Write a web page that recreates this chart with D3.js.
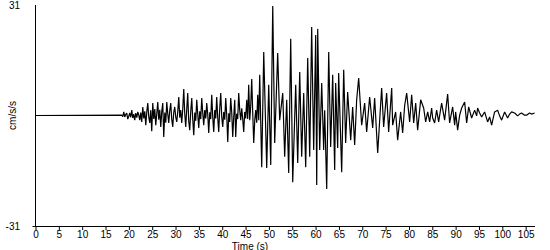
<!DOCTYPE html>
<html>
<head>
<meta charset="utf-8">
<script src="https://d3js.org/d3.v7.min.js"></script>
<style>
  body { margin: 0; background: #fff; }
  text { font-family: "Liberation Sans", Arial, sans-serif; font-size: 10px; fill: #000; }
</style>
</head>
<body>
<div id="chart"></div>
<script>
// time (s) of each sample
var times = [0, 18.48, 18.70, 18.91, 19.12, 19.34, 19.55, 19.76, 19.98, 20.19,
  20.40, 20.62, 20.83, 21.05, 21.26, 21.48, 21.70, 21.91, 22.12, 22.33,
  22.55, 22.76, 22.98, 23.20, 23.41, 23.62, 23.84, 24.05, 24.27, 24.48,
  24.69, 24.90, 25.12, 25.34, 25.55, 25.76, 25.98, 26.19, 26.40, 26.62,
  26.83, 27.05, 27.26, 27.47, 27.70, 27.91, 28.12, 28.33, 28.54, 28.76,
  28.97, 29.18, 29.40, 29.61, 29.83, 30.05, 30.26, 30.48, 30.69, 30.90,
  31.11, 31.33, 31.55, 31.76, 31.97, 32.18, 32.40, 32.61, 32.82, 33.04,
  33.25, 33.47, 33.68, 33.90, 34.12, 34.33, 34.54, 34.75, 34.97, 35.18,
  35.40, 35.61, 35.82, 36.04, 36.26, 36.47, 36.68, 36.90, 37.11, 37.33,
  37.54, 37.75, 37.97, 38.18, 38.40, 38.61, 38.82, 39.04, 39.25, 39.46,
  39.68, 39.90, 40.11, 40.32, 40.54, 40.75, 40.97, 41.18, 41.40, 41.61,
  41.82, 42.03, 42.25, 42.46, 42.68, 42.89, 43.10, 43.32, 43.53, 43.75,
  43.96, 44.18, 44.39, 44.60, 44.82, 45.03, 45.25, 45.46, 45.67, 45.89,
  46.10, 46.32, 46.54, 46.75, 46.96, 47.17, 47.39, 47.60, 47.82, 48.03,
  48.46, 48.89, 49.53, 49.96, 50.39, 50.82, 51.24, 51.88, 52.31, 52.96,
  53.38, 53.81, 54.24, 54.67, 55.10, 55.74, 56.17, 56.60, 57.02, 57.45,
  57.88, 58.31, 58.74, 59.16, 59.59, 60.02, 60.24, 60.45, 60.88, 61.31,
  61.73, 61.95, 62.38, 62.81, 63.23, 63.66, 64.09, 64.30, 64.73, 64.94,
  65.59, 66.02, 66.44, 66.87, 67.52, 67.94, 68.37, 68.80, 69.23, 69.87,
  70.51, 70.94, 71.58, 72.23, 72.65, 73.30, 74.15, 74.58, 75.22, 75.65,
  76.30, 76.51, 77.15, 77.58, 78.22, 78.65, 79.08, 79.51, 80.15, 80.58,
  81.01, 81.44, 81.86, 82.51, 83.15, 83.58, 84.01, 84.44, 84.86, 85.08,
  85.50, 85.93, 86.36, 87.00, 87.64, 88.29, 88.71, 89.36, 89.79, 90.00,
  90.43, 90.86, 91.29, 91.93, 92.36, 92.79, 93.43, 94.07, 94.50, 94.71,
  95.14, 95.57, 96.21, 96.85, 97.28, 97.71, 98.35, 98.99, 99.42, 99.85,
  100.49, 101.14, 101.56, 101.99, 102.63, 103.28, 103.70, 104.13, 104.77, 105.20,
  105.84, 106.27, 106.92];

// acceleration (cm/s/s) at those times
var accel = [0, 0.1, -0.3, 1.0, -0.4, 0.3, 0.7, -1.0, -0.2, 0.7,
  -0.5, 1.5, -0.7, 0.4, -1.3, 0.7, -0.6, 1.0, 0.2, -1.3,
  0.8, -1.8, 2.4, -0.8, 1.2, -2.7, 1.0, 3.5, -0.5, -2.1,
  1.5, -4.4, 3.5, -1.0, 1.8, -2.7, 0.5, 3.8, -1.2, 1.6,
  -3.2, 1.2, 3.5, -6.0, 0.8, -2.0, 3.8, 0.5, -2.1, 1.4,
  3.5, -1.0, -3.2, 0.8, 2.4, -0.5, -1.8, 1.2, 5.2, -0.6,
  1.5, -2.1, 2.0, 7.4, 0.5, -3.2, 1.8, 6.3, -1.5, -4.1,
  1.0, 4.9, -1.0, -5.5, 0.8, -1.5, 4.4, 0.5, -3.5, 1.2,
  -1.0, 4.9, 0.8, -2.7, 1.5, -0.8, 3.5, 0.3, -4.9, 0.9,
  -1.0, 5.8, -0.5, -4.6, 1.5, -0.8, 5.2, -0.7, -4.6, 1.8,
  6.3, -0.5, -3.2, 1.0, -1.2, 4.9, 0.0, -7.4, 0.6, -1.8,
  4.9, 1.0, -6.0, -0.5, 4.4, -6.0, 0.5, -1.0, 6.3, 1.5,
  -1.3, 2.0, -1.0, -4.6, 1.0, -0.8, 4.4, -1.0, 8.6, -1.3,
  2.5, 10.2, 0.5, -7.7, -1.5, 1.5, -2.0, 5.8, -1.3, 11.4,
  -14.5, 17.8, -14.7, 8.6, -13.9, 30.7, -7.7, 17.5, -1.3, 6.3,
  -11.6, 4.4, -16.1, 21.5, -18.7, 8.6, -13.3, 12.2, -11.6, 6.3,
  -14.5, 16.1, -11.6, 24.8, -9.7, 22.6, -19.5, 24.3, -9.7, 9.1,
  -9.7, 1.5, -20.6, 17.8, -8.8, 11.4, -15.3, 9.1, -9.1, 11.9,
  -15.9, 12.8, -7.7, 6.6, -6.9, 2.4, -8.3, 4.4, 10.5, -2.7,
  3.5, -4.6, 5.2, -3.5, 4.9, -10.5, 7.7, -3.2, 6.3, -4.6,
  7.7, -2.7, 1.0, -6.9, 1.0, -4.9, 2.8, 6.3, -1.8, 5.8,
  -2.1, 3.5, -4.1, 4.4, 2.1, -1.8, 1.0, -1.8, 2.1, -0.7,
  -2.1, 1.5, -1.8, 3.5, -1.3, 6.0, -2.1, 2.4, -2.7, 1.0,
  -4.1, 0.1, 2.1, 3.8, -2.1, 2.4, -0.7, 1.5, -0.1, 2.1,
  0.7, -0.4, 1.0, -1.8, -0.4, -2.7, 1.0, 1.5, -0.1, -1.3,
  1.0, -0.7, 0.4, 1.0, 0.7, -0.1, 0.4, 0.7, 0.1, 0.1,
  0.7, 0.4, 0.7];

var xTicks = [0, 5, 10, 15, 20, 25, 30, 35, 40, 45, 50, 55, 60, 65, 70, 75, 80, 85, 90, 95, 100, 105];
var yLimits = [-31, 31];

var width = 550, height = 250;
var margin = {top: 5, left: 35.5, bottom: 24, right: 15};

var svg = d3.select("#chart")
  .append("svg")
  .attr("width", width)
  .attr("height", height);

// scales
var xScale = d3.scaleLinear()
  .domain([0, 107])
  .range([margin.left, width - margin.right]);

var yScale = d3.scaleLinear()
  .domain(yLimits)
  .range([height - margin.bottom, margin.top]);

// x axis with ticks every 5 s
var bottomAxis = d3.axisBottom(xScale)
  .tickValues(xTicks)
  .tickSize(4)
  .tickPadding(1)
  .tickSizeOuter(0);

var xAxis = svg.append("g")
  .attr("transform", `translate(0, ${yScale(-31)})`)
  .call(bottomAxis);
xAxis.select(".domain").remove();
xAxis.selectAll("text").attr("font-family", null).attr("font-size", null);
xAxis.selectAll("line").attr("stroke", "#000");

xAxis.append("line")
  .attr("x1", margin.left - 3)
  .attr("x2", xScale(107))
  .attr("y1", 0.5)
  .attr("y2", 0.5)
  .attr("stroke", "#000");

// y axis is a bare line with end labels
svg.append("line")
  .attr("x1", margin.left)
  .attr("x2", margin.left)
  .attr("y1", yScale(31))
  .attr("y2", yScale(-31))
  .attr("stroke", "#000");

svg.selectAll(".ylim")
  .data(yLimits)
  .enter()
  .append("text")
  .attr("class", "ylim")
  .attr("x", 20)
  .attr("y", d => yScale(d))
  .attr("dy", "0.35em")
  .attr("text-anchor", "end")
  .text(d => d);

// trace
var line = d3.line()
  .x((d, i) => xScale(times[i]))
  .y(d => yScale(d));

svg.append("path")
  .datum(accel)
  .attr("d", line)
  .attr("fill", "none")
  .attr("stroke", "#000")
  .attr("stroke-width", 1.2)
  .attr("stroke-linejoin", "bevel");

// axis labels
svg.append("text")
  .attr("transform", `translate(16, ${yScale(0)}) rotate(-90)`)
  .attr("text-anchor", "middle")
  .text("cm/s/s");

svg.append("text")
  .attr("x", 250)
  .attr("y", 249.5)
  .attr("text-anchor", "middle")
  .text("Time (s)");
</script>
</body>
</html>
